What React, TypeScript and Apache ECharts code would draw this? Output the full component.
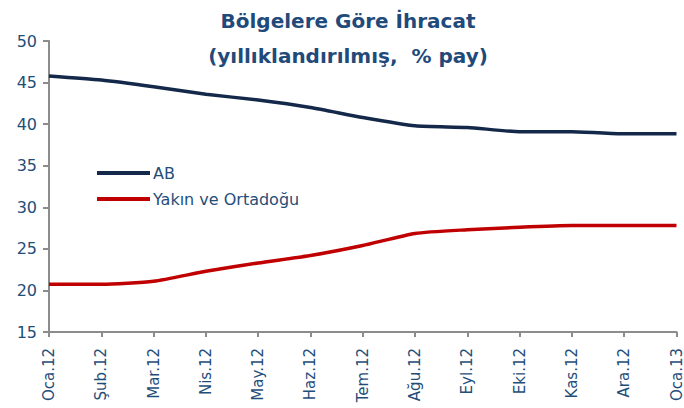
import React, { useEffect, useRef } from "react";
import * as echarts from "echarts";

const categories = ["Oca.12", "Şub.12", "Mar.12", "Nis.12", "May.12", "Haz.12", "Tem.12", "Ağu.12", "Eyl.12", "Eki.12", "Kas.12", "Ara.12", "Oca.13"];
const abValues = [45.8, 45.3, 44.5, 43.6, 42.9, 42.0, 40.8, 39.8, 39.6, 39.1, 39.1, 38.85, 38.85];
const middleEastValues = [20.75, 20.75, 21.1, 22.3, 23.3, 24.2, 25.4, 26.85, 27.3, 27.6, 27.8, 27.8, 27.8];
const seriesNames = ["AB", "Yakın ve Ortadoğu"];
const titleLines = ["Bölgelere Göre İhracat", "(yıllıklandırılmış,  % pay)"];

const textColor = "#1F4E79";
const font = "'DejaVu Sans', sans-serif";

export default function App() {
  const ref = useRef<HTMLDivElement>(null);
  useEffect(() => {
    const chart = echarts.init(ref.current!, null, { renderer: "svg" });
    chart.setOption({
      animation: false,
      title: {
        text: titleLines.join("\n"),
        left: 343,
        top: -2,
        textAlign: "center",
        textStyle: { color: "#1F4A7A", fontSize: 20, fontWeight: "bold", fontFamily: font, lineHeight: 35 },
      },
      legend: {
        orient: "vertical",
        left: 92,
        top: 160,
        itemWidth: 53,
        itemHeight: 4,
        itemGap: 10,
        icon: "rect",
        data: seriesNames,
        textStyle: { color: textColor, fontSize: 16, fontFamily: font, padding: [0, 0, 0, -2] },
      },
      grid: { left: 49, right: 7, top: 41, bottom: 76, containLabel: false },
      xAxis: {
        type: "category",
        data: categories,
        boundaryGap: false,
        axisLine: { lineStyle: { color: "#8C8C8C", width: 2 } },
        axisTick: { show: true, length: 5, alignWithLabel: true, lineStyle: { color: "#8C8C8C", width: 2 } },
        axisLabel: { rotate: 90, color: textColor, fontSize: 15, fontFamily: font, margin: 16, interval: 0 },
      },
      yAxis: {
        type: "value",
        min: 15,
        max: 50,
        interval: 5,
        axisLine: { show: true, lineStyle: { color: "#8C8C8C", width: 2 } },
        axisTick: { show: true, length: 6, lineStyle: { color: "#8C8C8C", width: 2 } },
        splitLine: { show: false },
        axisLabel: { color: textColor, fontSize: 16, fontFamily: font, margin: 12 },
      },
      series: [
        {
          name: seriesNames[0],
          type: "line",
          data: abValues,
          smooth: 0.2,
          showSymbol: false,
          color: "#14294A",
          lineStyle: { width: 3.5, color: "#14294A" },
        },
        {
          name: seriesNames[1],
          type: "line",
          data: middleEastValues,
          smooth: 0.2,
          showSymbol: false,
          color: "#C00000",
          lineStyle: { width: 3.5, color: "#C00000" },
        },
      ],
    });
    return () => chart.dispose();
  }, []);
  return <div ref={ref} style={{ width: 684, height: 408, position: "absolute", left: 0, top: 0, background: "#fff" }} />;
}
